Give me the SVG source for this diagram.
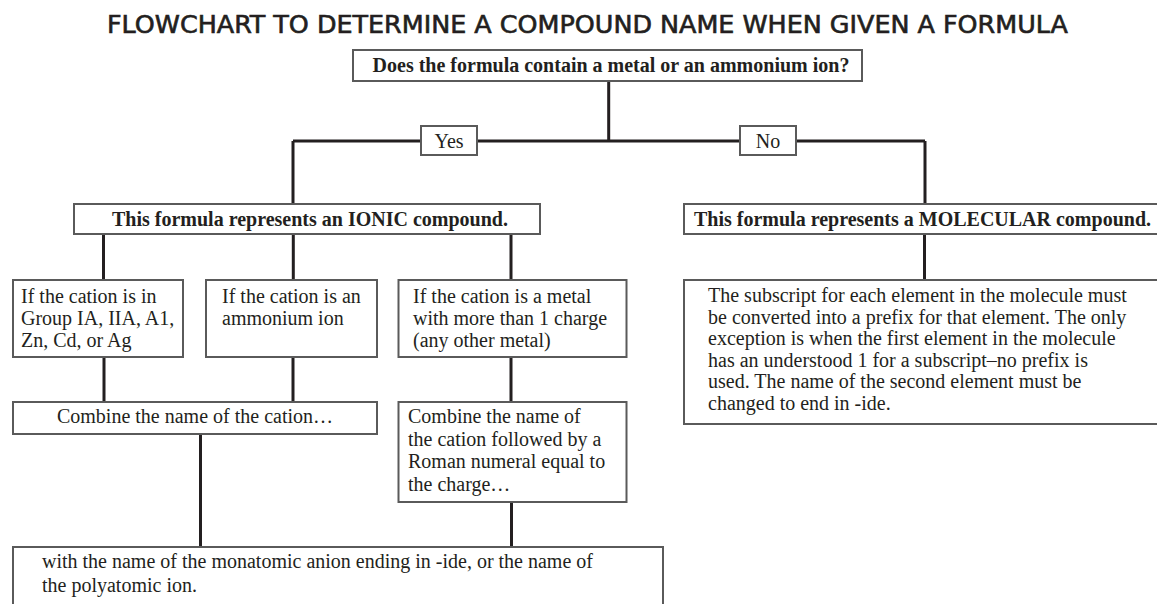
<svg xmlns="http://www.w3.org/2000/svg" width="1157" height="604" viewBox="0 0 1157 604">
<style>
.box{fill:#fff;stroke:#5a5a5a;stroke-width:2}
.t{font-family:"Liberation Serif","Times New Roman",serif;font-size:20px;fill:#231f20}
.b{font-weight:bold}
.c{text-anchor:middle}
.title{font-family:"Liberation Sans Narrow","DejaVu Sans Condensed","Liberation Sans",sans-serif;font-size:25.5px;fill:#231f20;stroke:#231f20;stroke-width:0.6;text-anchor:middle}
.ln{stroke:#231f20;stroke-width:3;fill:none}
</style>
<rect width="1157" height="604" fill="#fff"/>
<text class="title" x="587.5" y="33" textLength="961" lengthAdjust="spacingAndGlyphs">FLOWCHART TO DETERMINE A COMPOUND NAME WHEN GIVEN A FORMULA</text>
<g id="connectors">
<path class="ln" d="M608.7 81V141M293 141H925M293 141V204M925 141V204"/>
<path class="ln" d="M103.5 234V280M293.3 234V280M511 234V280M924.5 234V280"/>
<path class="ln" d="M104 357V402M293 357V402M511 357V402"/>
<path class="ln" d="M200.5 434V547M511.5 502V547"/>
</g>
<g id="question"><rect class="box" x="353" y="50" width="509" height="31"/><text class="t b c" x="611" y="71.5">Does the formula contain a metal or an ammonium ion?</text></g>
<g id="yes"><rect class="box" x="421" y="126" width="56" height="29"/><text class="t c" x="449" y="148">Yes</text></g>
<g id="no"><rect class="box" x="740" y="126" width="56" height="29"/><text class="t c" x="768" y="148">No</text></g>
<g id="ionic"><rect class="box" x="74" y="204" width="466" height="30"/><text class="t b c" x="310" y="226">This formula represents an IONIC compound.</text></g>
<g id="molecular"><rect class="box" x="684" y="204" width="474" height="30"/><text class="t b c" x="922.5" y="226">This formula represents a MOLECULAR compound.</text></g>
<g id="group"><rect class="box" x="13" y="280" width="170" height="77"/><text class="t" x="21" y="303">If the cation is in</text><text class="t" x="21" y="325">Group IA, IIA, A1,</text><text class="t" x="21" y="347">Zn, Cd, or Ag</text></g>
<g id="ammonium"><rect class="box" x="206" y="280" width="171" height="77"/><text class="t" x="222" y="303">If the cation is an</text><text class="t" x="222" y="325">ammonium ion</text></g>
<g id="metal"><rect class="box" x="398.5" y="280" width="228" height="77"/><text class="t" x="413" y="303">If the cation is a metal</text><text class="t" x="413" y="325">with more than 1 charge</text><text class="t" x="413" y="347">(any other metal)</text></g>
<g id="subscript"><rect class="box" x="684" y="280" width="474" height="144"/><text class="t" x="708" y="302">The subscript for each element in the molecule must</text><text class="t" x="708" y="323.6">be converted into a prefix for that element. The only</text><text class="t" x="708" y="345.2">exception is when the first element in the molecule</text><text class="t" x="708" y="366.8">has an understood 1 for a subscript–no prefix is</text><text class="t" x="708" y="388.4">used. The name of the second element must be</text><text class="t" x="708" y="410">changed to end in -ide.</text></g>
<g id="combine1"><rect class="box" x="13" y="402" width="364" height="32"/><text class="t c" x="195" y="423.3">Combine the name of the cation…</text></g>
<g id="combine2"><rect class="box" x="398.5" y="402" width="228" height="100"/><text class="t" x="408" y="423.3">Combine the name of</text><text class="t" x="408" y="446">the cation followed by a</text><text class="t" x="408" y="468.3">Roman numeral equal to</text><text class="t" x="408" y="490.7">the charge…</text></g>
<g id="anion"><rect class="box" x="13" y="547" width="650" height="70"/><text class="t" x="42" y="568.3">with the name of the monatomic anion ending in -ide, or the name of</text><text class="t" x="42" y="591.7">the polyatomic ion.</text></g>
</svg>
